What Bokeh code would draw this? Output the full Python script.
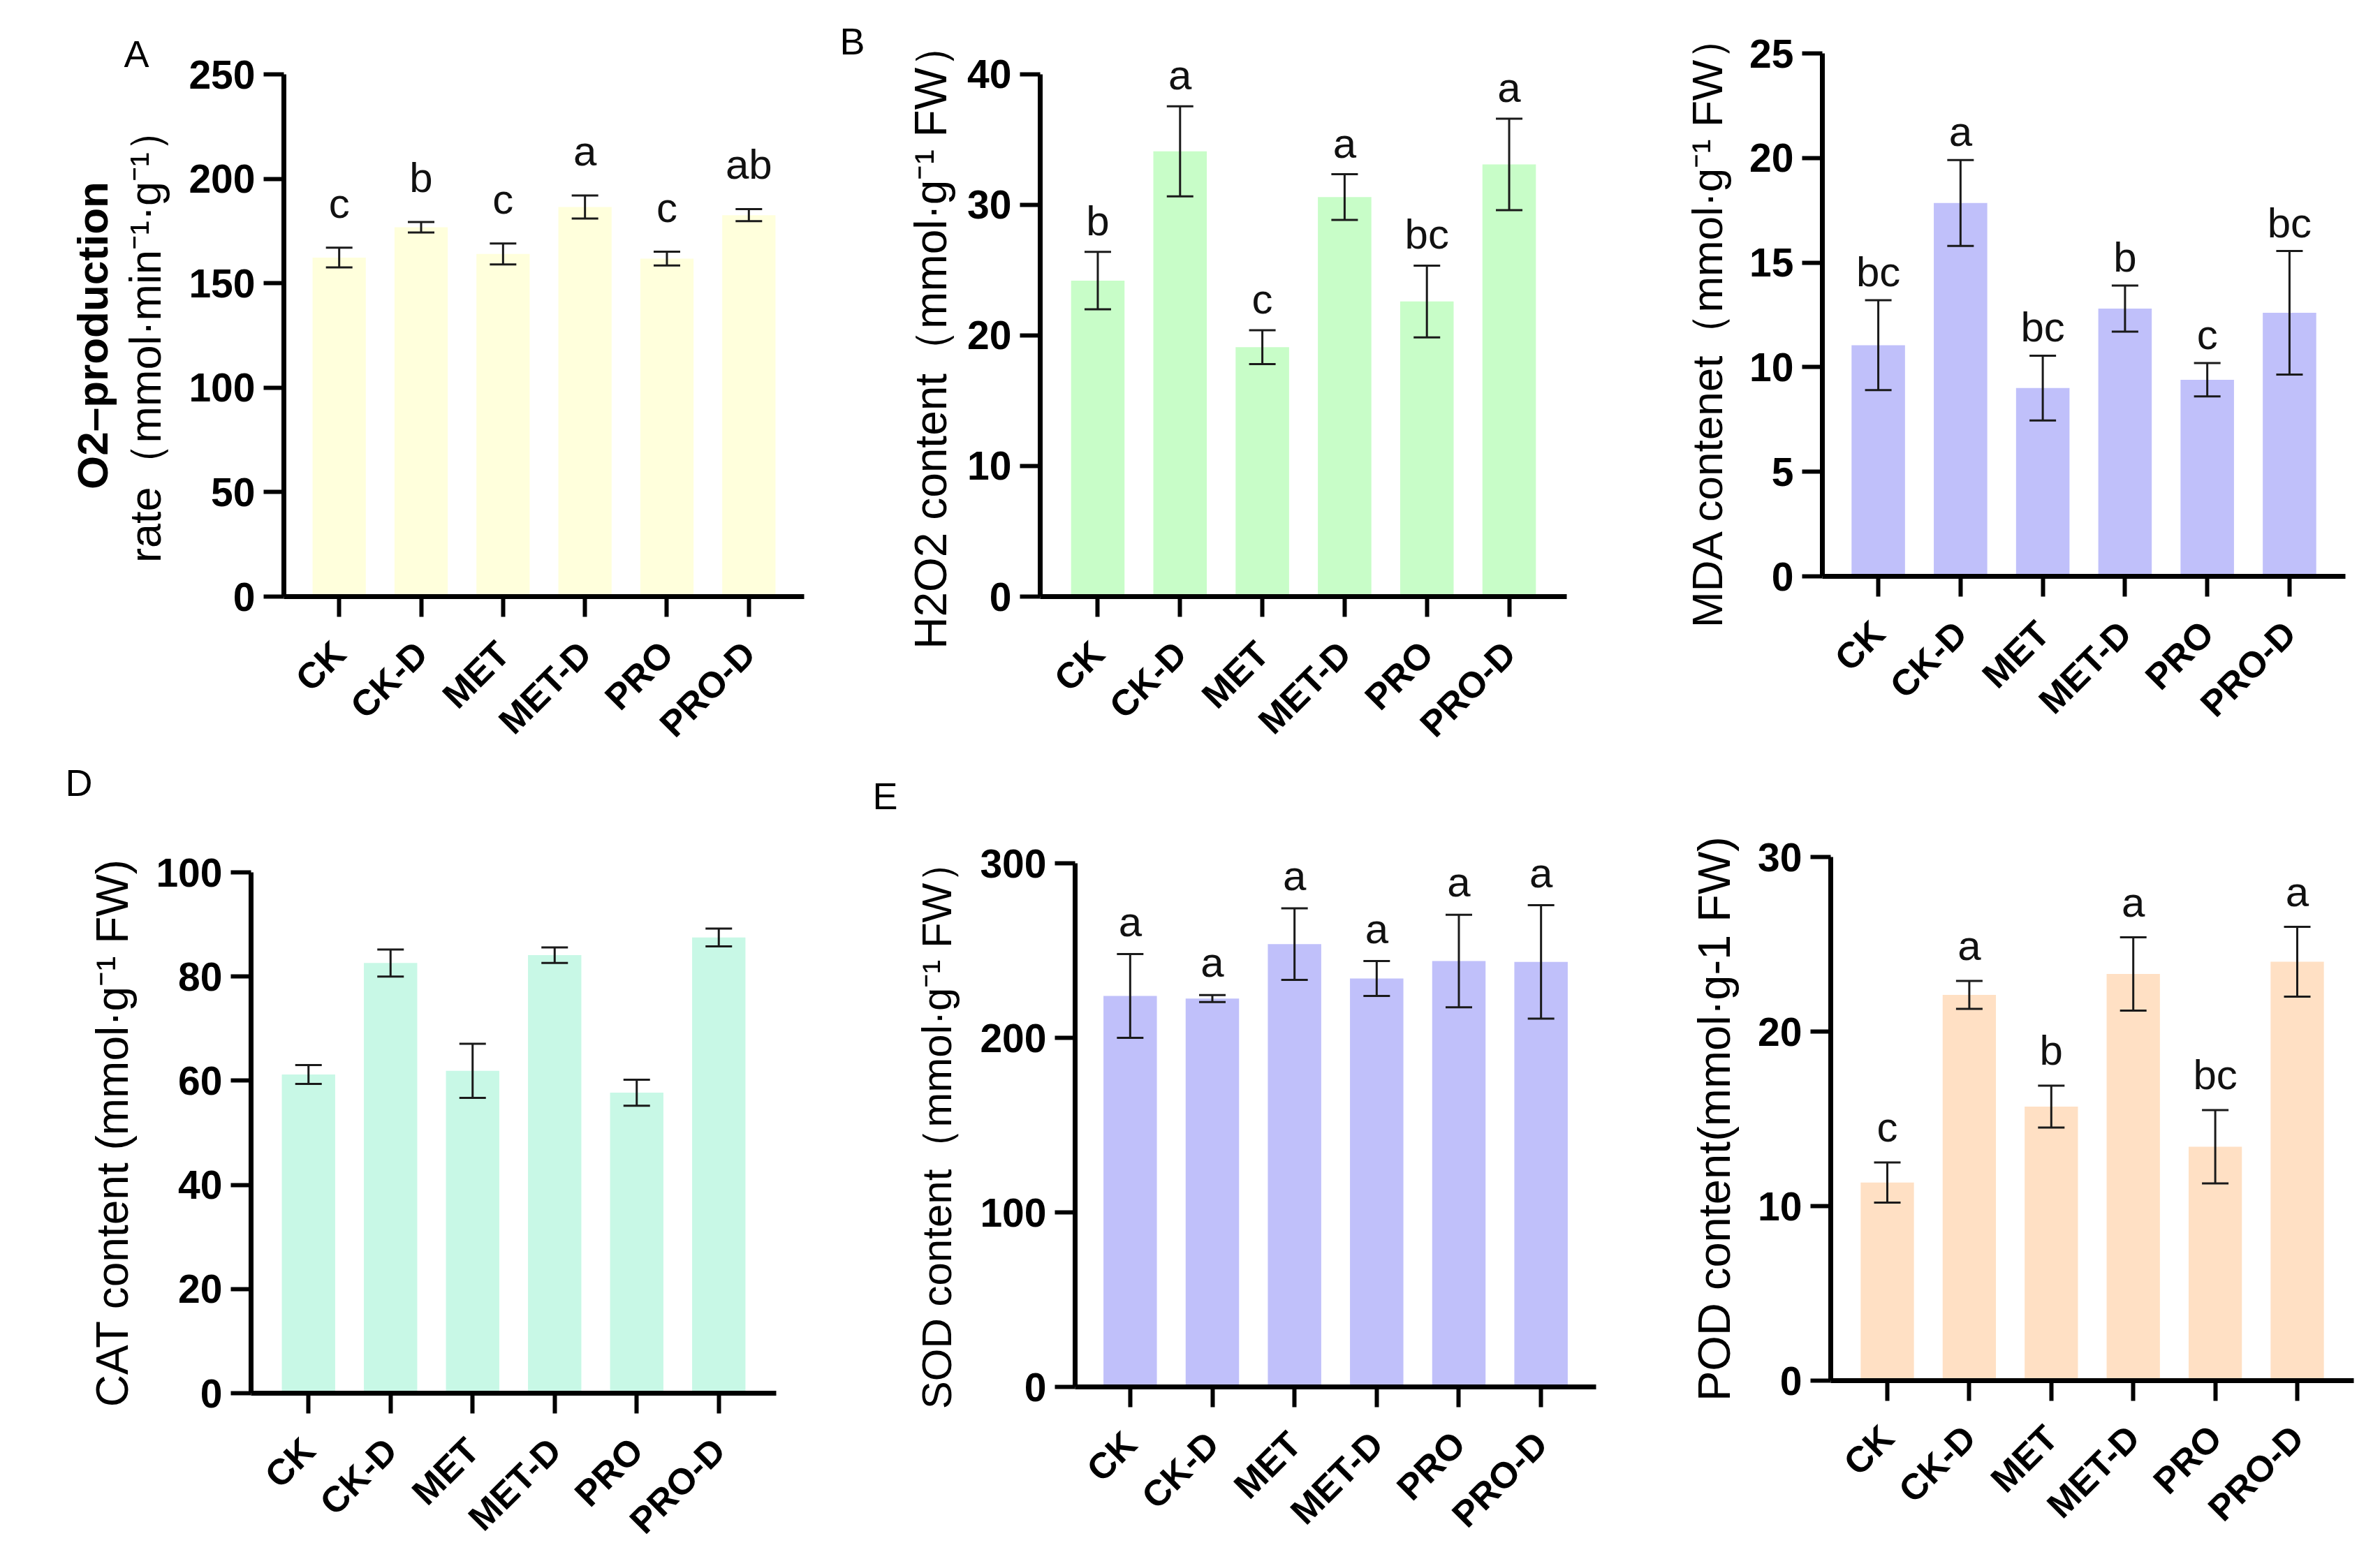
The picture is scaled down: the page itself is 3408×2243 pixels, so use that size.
import math
from bokeh.plotting import figure
from bokeh.models import (ColumnDataSource, Whisker, TeeHead, LabelSet, FactorRange,
                          FixedTicker, LinearAxis, Title, Spacer)
from bokeh.layouts import row, column
from bokeh.core.properties import value
from bokeh.embed import file_html
from bokeh.resources import INLINE

# ---------------- data ----------------
categories = ["CK", "CK-D", "MET", "MET-D", "PRO", "PRO-D"]

o2_mean = [162.3, 176.8, 164.0, 186.5, 161.8, 182.6]
o2_err = [4.7, 2.5, 5.0, 5.5, 3.3, 2.9]
o2_letters = ["c", "b", "c", "a", "c", "ab"]

h2o2_mean = [24.2, 34.1, 19.1, 30.6, 22.6, 33.1]
h2o2_err = [2.2, 3.45, 1.3, 1.75, 2.75, 3.5]
h2o2_letters = ["b", "a", "c", "a", "bc", "a"]

mda_mean = [11.05, 17.85, 9.0, 12.8, 9.4, 12.6]
mda_err = [2.15, 2.05, 1.55, 1.1, 0.8, 2.95]
mda_letters = ["bc", "a", "bc", "b", "c", "bc"]

cat_mean = [61.2, 82.6, 61.9, 84.1, 57.7, 87.5]
cat_err = [1.8, 2.6, 5.2, 1.5, 2.5, 1.7]

sod_mean = [224.0, 222.5, 253.7, 234.0, 244.0, 243.5]
sod_err = [24.0, 2.0, 20.5, 10.0, 26.5, 32.5]
sod_letters = ["a", "a", "a", "a", "a", "a"]

pod_mean = [11.35, 22.1, 15.7, 23.3, 13.4, 24.0]
pod_err = [1.15, 0.8, 1.2, 2.1, 2.1, 2.0]
pod_letters = ["c", "a", "b", "a", "bc", "a"]

o2_ticks = [0, 50, 100, 150, 200, 250]
h2o2_ticks = [0, 10, 20, 30, 40]
mda_ticks = [0, 5, 10, 15, 20, 25]
cat_ticks = [0, 20, 40, 60, 80, 100]
sod_ticks = [0, 100, 200, 300]
pod_ticks = [0, 10, 20, 30]

panel_letters = ["A", "B", "D", "E"]

SUP = "\u207b\u00b9"
NB = "\u00a0"
FONT = "Liberation Sans"


def make_panel(width, height, bl, br, bt, bb, axis_len, ext, means, errs, letters, color,
               ylabel, yticks, pad, letter_gap, label_size=64, label_standoff=23,
               extra_label=None, extra_size=62, titles=()):
    upper = [m + e for m, e in zip(means, errs)]
    lower = [m - e for m, e in zip(means, errs)]
    data = dict(x=categories, top=means, upper=upper, lower=lower)
    if letters is not None:
        data["letters"] = letters
    src = ColumnDataSource(data)
    xr = FactorRange(factors=categories, range_padding=2 * pad / len(categories),
                     range_padding_units="percent")
    ytop = yticks[-1]
    y_end = ytop * (axis_len + ext) / axis_len
    p = figure(width=width, height=height, x_range=xr, y_range=(yticks[0], y_end),
               output_backend="svg", toolbar_location=None,
               min_border_left=bl, min_border_right=br, min_border_top=bt,
               min_border_bottom=bb)
    p.vbar(x="x", top="top", width=0.65, source=src, fill_color=color, line_color=None)
    w = Whisker(source=src, base="x", upper="upper", lower="lower", dimension="height",
                line_color="#1a1a1a", line_width=3, level="overlay",
                upper_head=TeeHead(size=38, line_color="#1a1a1a", line_width=3),
                lower_head=TeeHead(size=38, line_color="#1a1a1a", line_width=3))
    p.add_layout(w)
    if letters is not None:
        ls = LabelSet(source=src, x="x", y="upper", text="letters", y_offset=letter_gap,
                      text_align="center", text_baseline="alphabetic",
                      text_font=value(FONT), text_font_size="60px", text_color="#111111",
                      level="overlay")
        p.add_layout(ls)

    p.grid.visible = False
    p.outline_line_color = None
    p.background_fill_color = "white"
    p.border_fill_color = "white"

    ya = p.yaxis[0]
    ya.ticker = FixedTicker(ticks=yticks)
    ya.bounds = (yticks[0], ytop)
    ya.axis_label = ylabel
    ya.axis_label_text_font = FONT
    ya.axis_label_text_font_size = f"{label_size}px"
    ya.axis_label_text_font_style = "normal"
    ya.axis_label_text_color = "black"
    ya.axis_label_standoff = label_standoff

    for ax in (p.xaxis[0], ya):
        ax.axis_line_width = 7
        ax.axis_line_color = "black"
        ax.major_tick_line_width = 6
        ax.major_tick_line_color = "black"
        ax.major_tick_out = 29
        ax.major_tick_in = 0
        ax.minor_tick_line_color = None
        ax.major_label_text_font = FONT
        ax.major_label_text_font_style = "bold"
        ax.major_label_text_color = "black"
    ya.major_label_text_font_size = "57px"
    ya.major_label_standoff = 12
    xa = p.xaxis[0]
    xa.major_label_text_font_size = "52px"
    xa.major_label_orientation = math.pi / 4
    xa.major_label_standoff = 44

    if extra_label is not None:
        ea = LinearAxis(ticker=FixedTicker(ticks=[]), axis_label=extra_label,
                        axis_line_color=None, major_tick_line_color=None,
                        minor_tick_line_color=None, major_label_text_font_size="0px",
                        major_tick_out=0, major_tick_in=0,
                        major_label_standoff=0, axis_label_standoff=4,
                        axis_label_text_font=FONT, axis_label_text_font_size=f"{extra_size}px",
                        axis_label_text_font_style="bold", axis_label_text_color="black")
        p.add_layout(ea, "left")

    for text, side, offset, standoff, valign in titles:
        t = Title(text=text, align="left", offset=offset, standoff=standoff,
                  vertical_align=valign, text_font=FONT, text_font_size="54px",
                  text_font_style="normal", text_color="black")
        p.add_layout(t, side)
    return p


pa = make_panel(1180, 1144, 406, 29, 97, 297, 750, 0, o2_mean, o2_err, o2_letters, "#FFFFDC",
                "rate\uff08mmol\u00b7min" + SUP + "\u00b7g" + SUP + "\uff09", o2_ticks, 0.175, 43,
                label_size=63, label_standoff=24, extra_label="O2\u2013production",
                extra_size=62,
                titles=[(panel_letters[0], "above", -229, 0, "bottom"),
                        (panel_letters[2], "below", -313, 2, "top")])
pb = make_panel(1100, 1189, 309, 37, 88, 335, 750, 16, h2o2_mean, h2o2_err, h2o2_letters,
                "#C8FDC8", "H2O2 content\uff08mmol\u00b7g" + SUP + " FW\uff09" + NB, h2o2_ticks,
                0.20, 24, label_size=64, label_standoff=13,
                titles=[(panel_letters[1], "above", -287, 4, "bottom"),
                        (panel_letters[3], "below", -240, 40, "top")])
pc = make_panel(1102, 1086, 329, 24, 76, 261, 749, 0, mda_mean, mda_err, mda_letters,
                "#C0C0FA", "MDA contenet\uff08mmol\u00b7g" + SUP + " FW\uff09" + NB,
                mda_ticks, 0.18, 20, label_size=62)
pd_ = make_panel(1160, 1038, 359, 49, 57, 233, 748, 0, cat_mean, cat_err, None,
                 "#C8F8E6", "CAT content (mmol\u00b7g" + SUP + " FW)", cat_ticks, 0.20, 20,
                 label_size=64)
pe = make_panel(1130, 1039, 379, 5, 45, 244, 750, 0, sod_mean, sod_err, sod_letters,
                "#C0C0FA", "SOD content\uff08mmol\u00b7g" + SUP + " FW\uff09", sod_ticks,
                0.17, 26, label_size=60, label_standoff=25)
pf = make_panel(1092, 1036, 331, 12, 33, 253, 750, 0, pod_mean, pod_err, pod_letters,
                "#FFE0C4", "POD content(mmol\u00b7g-1 FW)", pod_ticks, 0.19, 30,
                label_size=65)

row1 = row(column(Spacer(height=9), pa), column(Spacer(height=2), pb), column(pc))
row2 = row(column(Spacer(height=1), pd_), column(pe), column(Spacer(height=3), pf))
layout = column(row1, row2)

open("out.html", "w").write(file_html(layout, INLINE))
